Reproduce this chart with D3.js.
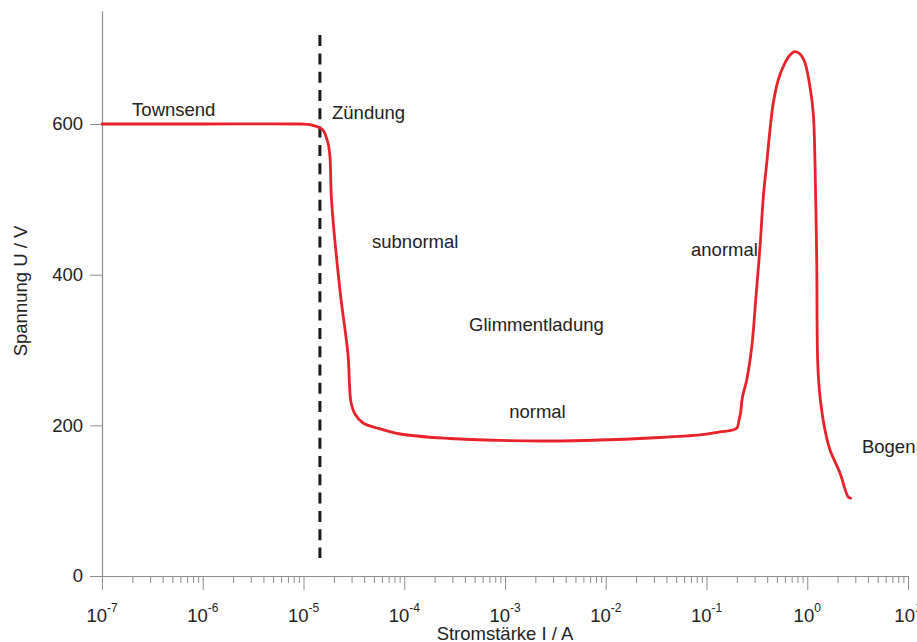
<!DOCTYPE html>
<html>
<head>
<meta charset="utf-8">
<script src="https://cdn.jsdelivr.net/npm/d3@7"></script>
<style>
  html, body { margin: 0; padding: 0; background: #fff; }
  svg { display: block; font-family: "Liberation Sans", Arial, sans-serif; }
</style>
</head>
<body>
<svg id="chart" width="917" height="642"></svg>
<script>
// Strom-Spannungs-Kennlinie einer Gasentladung
const current = [1e-7, 9.40e-7, 9.23e-6, 1.161e-5, 1.393e-5, 1.563e-5, 1.750e-5, 1.832e-5, 1.897e-5, 2.301e-5,
  2.767e-5, 2.864e-5, 2.958e-5, 3.243e-5, 3.899e-5, 5.370e-5, 9.08e-5, 2.84e-4, 8.91e-4, 2.80e-3,
  8.77e-3, 2.75e-2, 8.61e-2, 0.1358, 0.1828, 0.2009, 0.2104, 0.2178, 0.2275, 0.2506,
  0.2812, 0.3097, 0.3396, 0.3664, 0.3963, 0.4266, 0.4603, 0.5152, 0.6012, 0.6745,
  0.7551, 0.8472, 0.9506, 1.064, 1.148, 1.194, 1.242, 1.271, 1.340, 1.500,
  1.683, 2.113, 2.553, 2.698];
const voltage = [600, 600, 600, 599.3, 596.0, 592.0, 574.8, 556.2, 499.1, 379.6,
  293.4, 253.5, 231.0, 215.0, 203.1, 196.5, 188.5, 182.5, 179.9, 179.2,
  180.5, 183.2, 187.2, 191.2, 193.8, 196.5, 207.1, 216.4, 237.6, 260.2,
  304.0, 370.4, 436.7, 503.1, 548.3, 592.0, 627.9, 658.4, 681.0, 691.6,
  696.0, 692.9, 681.0, 649.5, 614.6, 548.3, 415.5, 282.7, 237.6, 193.8,
  167.3, 136.7, 104.9, 103.5];

// Zündspannung: senkrechte Markierung
const ignitionCurrent = 1.455e-5;
const ignitionSpan = [24, 718];

const xMajorTicks = [1e-7, 1e-6, 1e-5, 1e-4, 1e-3, 1e-2, 1e-1, 1e0, 1e1];
const xExponents = ["-7", "-6", "-5", "-4", "-3", "-2", "-1", "0", "1"];
const yTicks = [0, 200, 400, 600];

const regionLabels = ["Townsend", "Zündung", "subnormal", "Glimmentladung", "normal", "anormal", "Bogen"];
const regionCurrent = [1.99e-7, 1.92e-5, 4.79e-5, 4.40e-4, 1.10e-3, 0.0702, 3.49];
const regionVoltage = [610.6, 606, 435.4, 325.2, 209.7, 424.8, 163.3];

const svg = d3.select("#chart");
const x = d3.scaleLog().domain([1e-7, 10]).range([102, 908]);
const y = d3.scaleLinear().domain([0, 750]).range([576, 11]);

const axisColor = "#8c8c8c";
const textColor = "#222";
const fontSize = "18.5px";

// Minor ticks (2..9 within each decade)
const minorTicks = [];
for (let e = -7; e < 1; e++) {
  for (let m = 2; m <= 9; m++) minorTicks.push(m * Math.pow(10, e));
}

const gxMinor = svg.append("g").attr("transform", `translate(0,${y(0)})`)
  .call(d3.axisBottom(x).tickValues(minorTicks).tickSize(7).tickSizeOuter(0).tickFormat(""));
const gx = svg.append("g").attr("transform", `translate(0,${y(0)})`)
  .call(d3.axisBottom(x).tickValues(xMajorTicks).tickSize(14).tickSizeOuter(0).tickFormat(""));
[gxMinor, gx].forEach(g => {
  g.selectAll("line").attr("stroke", axisColor).attr("stroke-width", 1);
  g.select(".domain").attr("stroke", axisColor).attr("stroke-width", 1.2);
});

// Power-of-ten labels with superscript exponent
const xl = svg.append("g");
xMajorTicks.forEach((v, i) => {
  const t = xl.append("text")
    .attr("x", x(v)).attr("y", 622)
    .attr("text-anchor", "middle")
    .attr("fill", textColor)
    .style("font-size", fontSize);
  t.append("tspan").text("10");
  t.append("tspan").attr("dy", -10).style("font-size", "12px").text(xExponents[i]);
});

const gy = svg.append("g").attr("transform", `translate(${x(1e-7)},0)`)
  .call(d3.axisLeft(y).tickValues(yTicks).tickSize(12).tickSizeOuter(0).tickPadding(7));
gy.selectAll("line").attr("stroke", axisColor);
gy.select(".domain").attr("stroke", axisColor).attr("stroke-width", 1.2);
gy.selectAll("text").attr("fill", textColor).style("font-size", fontSize)
  .style("font-family", "'Liberation Sans', Arial, sans-serif");

// Axis titles
svg.append("text")
  .attr("x", 505).attr("y", 640)
  .attr("text-anchor", "middle").attr("fill", textColor)
  .style("font-size", fontSize)
  .text("Stromstärke I / A");
svg.append("text")
  .attr("transform", "translate(27,291) rotate(-90)")
  .attr("text-anchor", "middle").attr("fill", textColor)
  .style("font-size", fontSize)
  .text("Spannung U / V");

// Ignition marker
svg.append("line")
  .attr("x1", x(ignitionCurrent)).attr("x2", x(ignitionCurrent))
  .attr("y1", y(ignitionSpan[1])).attr("y2", y(ignitionSpan[0]))
  .attr("stroke", "#1a1a1a").attr("stroke-width", 3)
  .attr("stroke-dasharray", "11,7.3");

// Characteristic curve
const pts = current.map((c, i) => [c, voltage[i]]);
const line = d3.line()
  .x(d => x(d[0])).y(d => y(d[1]))
  .curve(d3.curveCatmullRom.alpha(0.5));
svg.append("path")
  .datum(pts)
  .attr("d", line)
  .attr("fill", "none")
  .attr("stroke", "#e8222a")
  .attr("stroke-width", 2.8)
  .attr("stroke-linejoin", "round")
  .attr("stroke-linecap", "round");

// Region labels
svg.append("g").selectAll("text")
  .data(regionLabels)
  .join("text")
  .attr("x", (d, i) => x(regionCurrent[i]))
  .attr("y", (d, i) => y(regionVoltage[i]))
  .attr("fill", textColor)
  .style("font-size", fontSize)
  .text(d => d);
</script>
</body>
</html>
